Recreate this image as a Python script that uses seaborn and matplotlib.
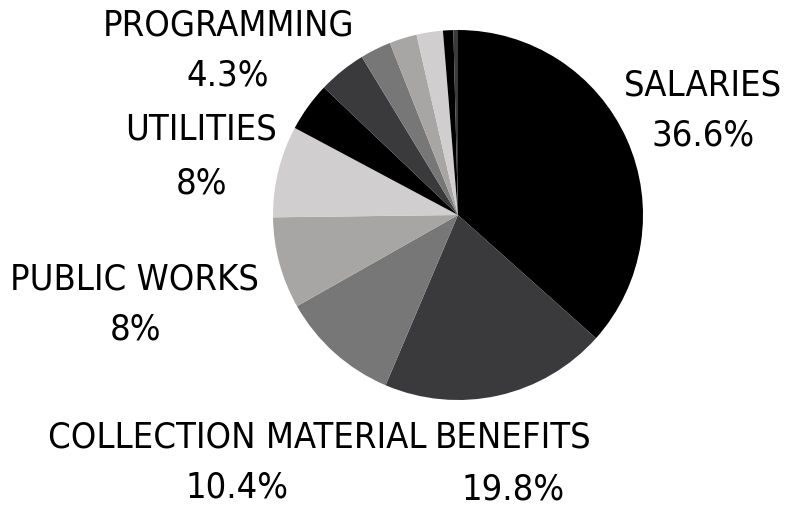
import matplotlib
matplotlib.use("Agg")
import matplotlib.pyplot as plt
from matplotlib import font_manager
import seaborn as sns

# Budget shares, clockwise from 12 o'clock
categories = ["Salaries", "Benefits", "Collection Material", "Public Works",
              "Utilities", "Programming", "Other A", "Other B", "Other C",
              "Other D", "Other E", "Other F"]
shares = [36.6, 19.8, 10.4, 8, 8, 4.3, 4.2, 2.7, 2.4, 2.3, 0.9, 0.4]
labelled = ["Salaries", "Benefits", "Collection Material", "Public Works",
            "Utilities", "Programming"]

sns.set_theme(style="white")
plt.rcParams["font.family"] = ["DejaVu Sans"]

names = sorted({(f.name, f.stretch, f.weight) for f in font_manager.fontManager.ttflist})
print(names)

greys = ["#000000", "#3a3a3c", "#777777", "#a8a6a4", "#d0cece"]
colors = [greys[i % len(greys)] for i in range(len(shares))]

fig = plt.figure(figsize=(7.93, 5.08), dpi=100)
W, H = 793, 508
cx, cy, r = 458, 215, 185
ax = fig.add_axes([(cx - r) / W, (H - cy - r) / H, 2 * r / W, 2 * r / H])
ax.pie(shares, colors=colors, startangle=90, counterclock=False, radius=1,
       wedgeprops=dict(linewidth=0))
ax.set_xlim(-1, 1)
ax.set_ylim(-1, 1)
ax.set_aspect("equal")
ax.axis("off")

# label layout: (name centre x, name centre y, value centre y) in pixels
layout = {
    "Salaries": (703, 85, 135),
    "Benefits": (513, 438, 490),
    "Collection Material": (237, 438, 488),
    "Public Works": (135, 280, 330),
    "Utilities": (201, 130, 183),
    "Programming": (228, 25, 76),
}
fs = 26
for name in labelled:
    v = shares[categories.index(name)]
    x, y1, y2 = layout[name]
    fig.text(x / W, 1 - y1 / H, name.upper(), ha="center", va="center",
             fontsize=fs, fontstretch="condensed", color="black")
    fig.text(x / W, 1 - y2 / H, f"{v:g}%", ha="center", va="center",
             fontsize=fs, fontstretch="condensed", color="black")

fig.savefig("out.png", dpi=100, facecolor="white")
